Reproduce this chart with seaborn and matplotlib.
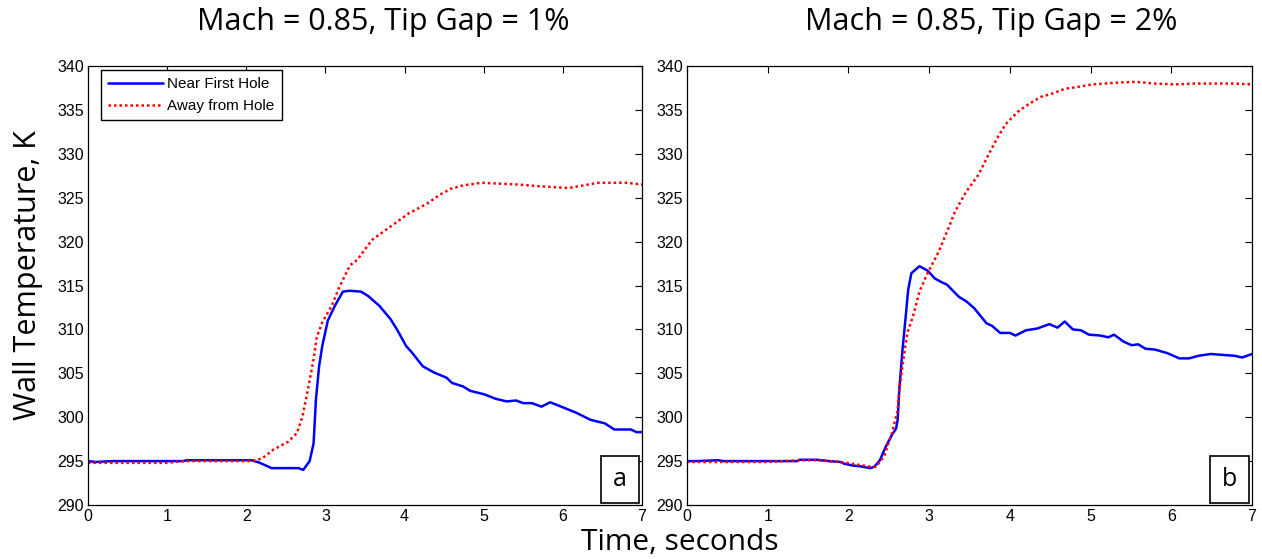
import numpy as np
import pandas as pd
import matplotlib
matplotlib.use("Agg")
import matplotlib.pyplot as plt
from matplotlib.patches import Rectangle
import seaborn as sns

# ---- data ----
t1_near = [0.0, 0.1, 0.3, 1.2, 1.25, 2.06, 2.16, 2.32, 2.66, 2.72, 2.80, 2.85, 2.88, 2.92, 2.96, 3.03,
           3.12, 3.22, 3.31, 3.45, 3.54, 3.68, 3.82, 3.91, 4.02, 4.09, 4.23, 4.37, 4.53, 4.60, 4.74,
           4.83, 5.01, 5.15, 5.29, 5.41, 5.50, 5.61, 5.73, 5.84, 5.98, 6.17, 6.35, 6.53, 6.65, 6.86,
           6.93, 7.0]
T1_near = [295.0, 294.9, 295.0, 295.0, 295.1, 295.1, 294.85, 294.2, 294.2, 294.0, 295.0, 297.0, 302.0,
           305.8, 308.1, 311.0, 312.7, 314.3, 314.4, 314.3, 313.8, 312.7, 311.2, 309.9, 308.1, 307.4,
           305.8, 305.1, 304.5, 303.9, 303.5, 303.0, 302.6, 302.1, 301.8, 301.9, 301.6, 301.6, 301.2,
           301.7, 301.2, 300.5, 299.7, 299.3, 298.6, 298.6, 298.3, 298.3]

t1_away = [0.0, 0.5, 1.0, 1.2, 2.06, 2.2, 2.34, 2.53, 2.64, 2.71, 2.78, 2.85, 2.89, 2.96, 3.08, 3.17,
           3.31, 3.40, 3.59, 3.82, 4.05, 4.28, 4.44, 4.58, 4.74, 4.97, 5.2, 5.43, 5.71, 6.07, 6.26,
           6.44, 6.81, 7.0]
T1_away = [294.8, 294.8, 294.8, 295.0, 295.0, 295.3, 296.3, 297.2, 298.2, 300.1, 303.2, 306.6, 309.1,
           310.8, 312.7, 314.7, 317.3, 317.9, 320.2, 321.7, 323.2, 324.3, 325.3, 326.0, 326.4, 326.7,
           326.6, 326.5, 326.3, 326.1, 326.4, 326.7, 326.7, 326.5]

t2_near = [0.0, 0.12, 0.39, 0.45, 1.37, 1.39, 1.61, 1.76, 1.90, 1.95, 2.05, 2.15, 2.27, 2.32, 2.39,
           2.46, 2.54, 2.59, 2.61, 2.63, 2.67, 2.71, 2.74, 2.78, 2.88, 2.98, 3.07, 3.15, 3.22, 3.37,
           3.46, 3.56, 3.71, 3.78, 3.88, 4.0, 4.07, 4.2, 4.34, 4.49, 4.59, 4.68, 4.78, 4.88, 4.98,
           5.12, 5.22, 5.29, 5.41, 5.51, 5.59, 5.68, 5.8, 5.95, 6.1, 6.22, 6.34, 6.49, 6.63, 6.78,
           6.88, 7.0]
T2_near = [295.0, 295.0, 295.1, 295.0, 295.0, 295.15, 295.15, 295.0, 294.9, 294.7, 294.5, 294.4, 294.2,
           294.35, 295.1, 296.6, 298.0, 298.7, 299.7, 303.1, 307.7, 311.5, 314.5, 316.4, 317.2, 316.7,
           315.8, 315.4, 315.1, 313.7, 313.2, 312.4, 310.7, 310.4, 309.6, 309.6, 309.3, 309.9, 310.1,
           310.6, 310.2, 310.9, 310.0, 309.9, 309.4, 309.3, 309.1, 309.4, 308.6, 308.2, 308.3, 307.8,
           307.7, 307.3, 306.7, 306.7, 307.0, 307.2, 307.1, 307.0, 306.8, 307.2]

t2_away = [0.0, 1.0, 1.4, 1.6, 1.9, 2.05, 2.24, 2.34, 2.44, 2.54, 2.61, 2.63, 2.68, 2.73, 2.8, 2.88,
           2.98, 3.07, 3.12, 3.22, 3.32, 3.46, 3.61, 3.73, 3.85, 3.95, 4.1, 4.24, 4.39, 4.54, 4.68,
           4.83, 5.02, 5.32, 5.56, 5.8, 6.05, 6.29, 6.78, 7.0]
T2_away = [294.9, 294.9, 295.1, 295.1, 294.9, 294.7, 294.4, 294.35, 295.5, 298.2, 300.8, 303.1, 306.5,
           309.6, 311.5, 314.3, 316.4, 318.0, 318.9, 321.1, 323.4, 325.7, 327.6, 329.8, 331.9, 333.4,
           334.8, 335.7, 336.5, 336.9, 337.4, 337.6, 337.9, 338.1, 338.2, 338.0, 337.9, 338.0, 338.0,
           337.9]

titles = ["Mach = 0.85, Tip Gap = 1%", "Mach = 0.85, Tip Gap = 2%"]
panel_tags = ["a", "b"]
series_names = ["Near First Hole", "Away from Hole"]
x_ticks = [0, 1, 2, 3, 4, 5, 6, 7]
y_ticks = [290, 295, 300, 305, 310, 315, 320, 325, 330, 335, 340]

# ---- style ----
sns.set_style("white")
plt.rcParams["font.family"] = ["Liberation Sans", "DejaVu Sans"]
plt.rcParams["text.color"] = "black"
plt.rcParams["xtick.direction"] = "in"
plt.rcParams["ytick.direction"] = "in"

fig = plt.figure(figsize=(12.62, 5.59), dpi=100)
ax1 = fig.add_axes([88 / 1262, 1 - 505 / 559, (642 - 88) / 1262, (505 - 66) / 559])
ax2 = fig.add_axes([687 / 1262, 1 - 505 / 559, (1252 - 687) / 1262, (505 - 66) / 559])

panels = [
    (ax1, t1_near, T1_near, t1_away, T1_away),
    (ax2, t2_near, T2_near, t2_away, T2_away),
]

for i, (ax, tn, Tn, ta, Ta) in enumerate(panels):
    sns.lineplot(x=tn, y=Tn, ax=ax, color="#0000ff", lw=1.8, label=series_names[0],
                 sort=False, estimator=None)
    sns.lineplot(x=ta, y=Ta, ax=ax, color="#ff0000", lw=1.8, linestyle=(0, (1, 1.2)),
                 label=series_names[1], sort=False, estimator=None)
    ax.set_xlim(0, 7)
    ax.set_ylim(290, 340)
    ax.set_xticks(x_ticks)
    ax.set_yticks(y_ticks)
    ax.tick_params(axis="both", which="both", direction="in", length=5, width=0.8,
                   top=True, right=True, labelsize=11.5, colors="black", pad=3)
    for sp in ax.spines.values():
        sp.set_visible(True)
        sp.set_color("black")
        sp.set_linewidth(0.9)
    ax.set_xlabel("")
    ax.set_ylabel("")
    # panel tag box
    ax.add_patch(Rectangle((0.926, 0.005), 0.069, 0.106, transform=ax.transAxes,
                           facecolor="white", edgecolor="black", lw=1.2, zorder=5))
    ax.text(0.9605, 0.058, panel_tags[i], transform=ax.transAxes, ha="center", va="center",
            fontsize=18, family=["Open Sans", "DejaVu Sans"], color="black", zorder=6)
    if i == 0:
        leg = ax.legend(loc="upper left", bbox_to_anchor=(13 / 554, 1 - 4 / 439),
                        borderaxespad=0, frameon=True, fancybox=False, fontsize=11,
                        handlelength=3.6, handletextpad=0.3, borderpad=0.45,
                        labelspacing=0.55)
        leg.get_frame().set_edgecolor("black")
        leg.get_frame().set_linewidth(1.0)
        leg.get_frame().set_alpha(1)
    else:
        ax.get_legend().remove()

tfont = ["Open Sans", "DejaVu Sans"]
fig.text(383 / 1262, 1 - 22 / 559, titles[0], ha="center", va="center", fontsize=22,
         family=tfont, color="black")
fig.text(991 / 1262, 1 - 22 / 559, titles[1], ha="center", va="center", fontsize=22,
         family=tfont, color="black")
fig.text(28 / 1262, 1 - 275 / 559, "Wall Temperature, K", ha="center", va="center",
         rotation=90, fontsize=22, family=tfont, color="black")
fig.text(680 / 1262, 1 - 543 / 559, "Time, seconds", ha="center", va="center", fontsize=21.5,
         family=tfont, color="black")

fig.savefig("out.png", dpi=100, facecolor="white")
